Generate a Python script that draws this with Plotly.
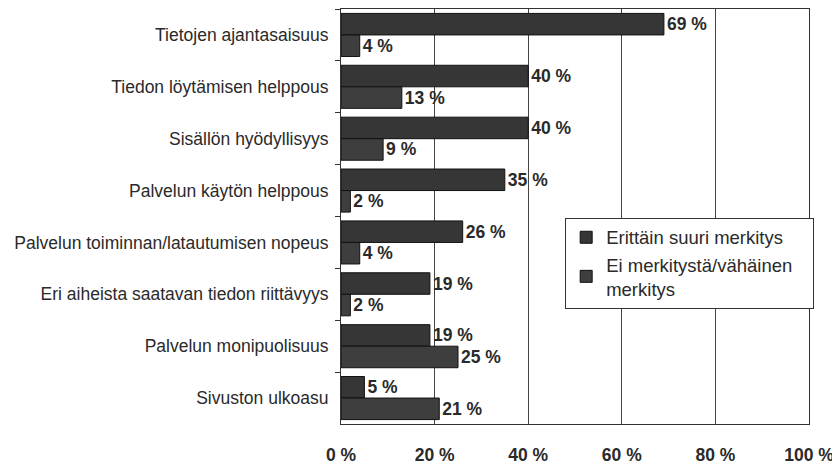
import plotly.graph_objects as go

categories = [
    "Tietojen ajantasaisuus",
    "Tiedon löytämisen helppous",
    "Sisällön hyödyllisyys",
    "Palvelun käytön helppous",
    "Palvelun toiminnan/latautumisen nopeus",
    "Eri aiheista saatavan tiedon riittävyys",
    "Palvelun monipuolisuus",
    "Sivuston ulkoasu",
]
very_important = [69, 40, 40, 35, 26, 19, 19, 5]
not_important = [4, 13, 9, 2, 4, 2, 25, 21]
x_ticks = [0, 20, 40, 60, 80, 100]

fig = go.Figure()
for name, vals, color, grp in (
    ("Erittäin suuri merkitys", very_important, "#363636", "a"),
    ("Ei merkitystä/vähäinen\u00a0\u00a0\u00a0<br>merkitys", not_important, "#3e3e3e", "b"),
):
    fig.add_trace(go.Bar(
        y=categories, x=vals, orientation="h", name=name, legendgroup=grp,
        marker=dict(color=color, line=dict(color="#111111", width=1)),
        text=[f"<b>{v} %</b>" for v in vals], textposition="outside",
        textfont=dict(family="Arial", size=17.5, color="#2a2a2a"),
        cliponaxis=False,
    ))

# page body adds ~8px offset, so the figure is a bit smaller than the window
fig.update_layout(
    width=832, height=458,
    margin=dict(l=333, r=31, t=1, b=42),
    paper_bgcolor="white", plot_bgcolor="white",
    barmode="group", bargap=0.17, bargroupgap=0.0,
    font=dict(family="Arial", size=17, color="#2a2a2a"),
    showlegend=True,
    legend=dict(
        x=0.479, y=0.497, xanchor="left", yanchor="top",
        bgcolor="white", bordercolor="#333333", borderwidth=1,
        font=dict(family="Arial", size=18.5, color="#2a2a2a"),
        traceorder="normal", tracegroupgap=8, itemwidth=30,
    ),
)
fig.update_xaxes(
    range=[0, 100], tickvals=x_ticks, automargin=False,
    ticktext=[f"<b>{t} %</b>" for t in x_ticks],
    tickfont=dict(family="Arial", size=17.5, color="#2a2a2a"),
    showgrid=True, gridcolor="#444444", gridwidth=1,
    showline=True, linecolor="#333333", linewidth=1, mirror=True,
    zeroline=False, ticks="", ticklabelstandoff=15,
)
fig.update_yaxes(
    autorange="reversed", type="category", automargin=False,
    showline=True, linecolor="#333333", linewidth=1, mirror=True,
    ticks="outside", ticklen=5, tickcolor="#333333",
    tickson="boundaries", ticklabelstandoff=8,
    tickfont=dict(family="Arial", size=17.5, color="#2a2a2a"),
)

fig.write_html("out.html")
